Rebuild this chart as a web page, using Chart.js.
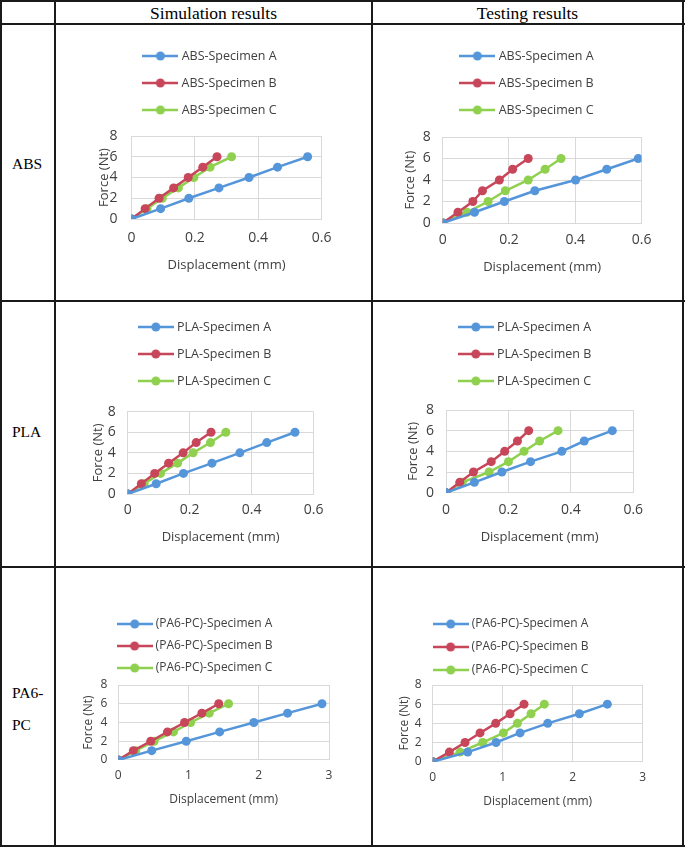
<!DOCTYPE html>
<html>
<head>
<meta charset="utf-8">
<script src="https://cdn.jsdelivr.net/npm/chart.js@4.4.1/dist/chart.umd.min.js"></script>
<style>
  html, body { margin: 0; padding: 0; background: #fff; }
  #sheet { position: relative; width: 685px; height: 847px; overflow: hidden; font-family: 'Liberation Serif', 'Times New Roman', serif; color: #000; }
  .hl { position: absolute; left: 0; width: 685px; height: 2px; background: #1a1a1a; }
  .vl { position: absolute; top: 0; height: 847px; width: 2px; background: #1a1a1a; }
  .head { position: absolute; top: 2px; height: 22px; line-height: 22px; font-size: 17.5px; text-align: center; }
  .rowlab { position: absolute; left: 12px; font-size: 15.5px; line-height: 32px; }
  canvas { position: absolute; }
</style>
</head>
<body>
<div id="sheet">
  <div class="hl" style="top:0"></div>
  <div class="hl" style="top:23px"></div>
  <div class="hl" style="top:300px"></div>
  <div class="hl" style="top:566px"></div>
  <div class="hl" style="top:845px"></div>
  <div class="vl" style="left:0"></div>
  <div class="vl" style="left:54px"></div>
  <div class="vl" style="left:371px"></div>
  <div class="vl" style="left:682px"></div>

  <div class="head" style="left:56px;width:315px">Simulation results</div>
  <div class="head" style="left:373px;width:309px">Testing results</div>

  <div class="rowlab" style="top:148px">ABS</div>
  <div class="rowlab" style="top:416px">PLA</div>
  <div class="rowlab" style="top:677px">PA6-<br>PC</div>
</div>

<script>
// force steps (Nt) shared by every curve
const forceLevels = [0, 1, 2, 3, 4, 5, 6]

// displacement (mm)
const absSimA = [0, 0.092, 0.181, 0.276, 0.371, 0.461, 0.556]
const absSimB = [0, 0.043, 0.087, 0.133, 0.179, 0.225, 0.27]
const absSimC = [0, 0.049, 0.097, 0.148, 0.197, 0.248, 0.316]
const absTestA = [0, 0.096, 0.186, 0.278, 0.401, 0.495, 0.59]
const absTestB = [0, 0.046, 0.091, 0.12, 0.171, 0.211, 0.258]
const absTestC = [0, 0.073, 0.137, 0.189, 0.258, 0.309, 0.357]
const plaSimA = [0, 0.092, 0.18, 0.272, 0.362, 0.449, 0.54]
const plaSimB = [0, 0.044, 0.087, 0.132, 0.179, 0.221, 0.269]
const plaSimC = [0, 0.053, 0.106, 0.161, 0.211, 0.267, 0.317]
const plaTestA = [0, 0.091, 0.179, 0.271, 0.371, 0.443, 0.533]
const plaTestB = [0, 0.044, 0.088, 0.145, 0.188, 0.229, 0.265]
const plaTestC = [0, 0.052, 0.138, 0.2, 0.25, 0.3, 0.359]
const pcSimA = [0, 0.476, 0.967, 1.443, 1.93, 2.41, 2.9]
const pcSimB = [0, 0.214, 0.462, 0.7, 0.943, 1.19, 1.43]
const pcSimC = [0, 0.248, 0.51, 0.786, 1.03, 1.295, 1.57]
const pcTestA = [0, 0.5, 0.905, 1.248, 1.643, 2.095, 2.495]
const pcTestB = [0, 0.238, 0.462, 0.676, 0.9, 1.105, 1.305]
const pcTestC = [0, 0.39, 0.714, 1.01, 1.21, 1.405, 1.595]

const absNames = ['ABS-Specimen A', 'ABS-Specimen B', 'ABS-Specimen C']
const plaNames = ['PLA-Specimen A', 'PLA-Specimen B', 'PLA-Specimen C']
const pcNames = ['(PA6-PC)-Specimen A', '(PA6-PC)-Specimen B', '(PA6-PC)-Specimen C']

const forceTicks = [0, 2, 4, 6, 8]
const dispTicksFine = [0, 0.2, 0.4, 0.6]
const dispTicksWide = [0, 1, 2, 3]

const colors = ['#5596DA', '#C8465A', '#8FD14F']
const textColor = '#404040'
const gridColor = '#D9D9D9'

// where each plot sits on the page (px)
const panels = [
	{ x0: 57, y0: 26, h: 273, L: 131.5, R: 327.5, T: 136, B: 219, legendX: 211, row1: 56, rowGap: 27, legendSize: 12.5, tickSize: 14, titleSize: 13, tickY: 238, titleY: 265, yTickGap: 14, yTitleX: 104, xTicks: dispTicksFine, series: [absSimA, absSimB, absSimC], names: absNames },
	{ x0: 374, y0: 26, h: 273, L: 442.7, R: 646, T: 137, B: 223, legendX: 528, row1: 56, rowGap: 27, legendSize: 12.5, tickSize: 14, titleSize: 13, tickY: 240, titleY: 267, yTickGap: 12, yTitleX: 410, xTicks: dispTicksFine, series: [absTestA, absTestB, absTestC], names: absNames },
	{ x0: 57, y0: 303, h: 262, L: 127.7, R: 317, T: 411.7, B: 494, legendX: 206, row1: 327, rowGap: 27, legendSize: 12.5, tickSize: 14, titleSize: 13, tickY: 510, titleY: 537, yTickGap: 12, yTitleX: 98, xTicks: dispTicksFine, series: [plaSimA, plaSimB, plaSimC], names: plaNames },
	{ x0: 374, y0: 303, h: 262, L: 446, R: 638, T: 410, B: 492.7, legendX: 526, row1: 327, rowGap: 27, legendSize: 12.5, tickSize: 14, titleSize: 13, tickY: 510, titleY: 537, yTickGap: 12, yTitleX: 413, xTicks: dispTicksFine, series: [plaTestA, plaTestB, plaTestC], names: plaNames },
	{ x0: 57, y0: 569, h: 276, L: 118.3, R: 329, T: 685, B: 760, legendX: 196, row1: 624, rowGap: 22, legendSize: 12, tickSize: 12, titleSize: 12, tickY: 776, titleY: 800, yTickGap: 11, yTitleX: 89, xTicks: dispTicksWide, series: [pcSimA, pcSimB, pcSimC], names: pcNames },
	{ x0: 374, y0: 569, h: 276, L: 432.7, R: 642.7, T: 685, B: 761.7, legendX: 512, row1: 624, rowGap: 23, legendSize: 12, tickSize: 12, titleSize: 12, tickY: 778, titleY: 802, yTickGap: 11, yTitleX: 405, xTicks: dispTicksWide, series: [pcTestA, pcTestB, pcTestC], names: pcNames },
]

// line-with-dot swatch like the Excel legend
function legendMarker(color) {
	const c = document.createElement('canvas')
	c.width = 36
	c.height = 10
	const g = c.getContext('2d')
	g.strokeStyle = color
	g.lineWidth = 2.5
	g.beginPath()
	g.moveTo(0, 5)
	g.lineTo(36, 5)
	g.stroke()
	g.fillStyle = color
	g.beginPath()
	g.arc(18, 5, 4.5, 0, Math.PI * 2)
	g.fill()
	return c
}
const markers = colors.map(legendMarker)

// leaves a bit of room between the legend and the plot
const legendGap = {
	id: 'legendGap',
	beforeUpdate(chart, args, opts) {
		const lg = chart.legend
		if (lg && !lg._gapPatched) {
			const fit = lg.fit
			lg.fit = function () {
				fit.call(this)
				this.height += opts.extra || 0
			}
			lg._gapPatched = true
		}
	},
}

const sheet = document.getElementById('sheet')

panels.forEach((s) => {
	const w = Math.round(s.R + 14 - s.x0)
	const lh = s.titleSize * 1.2
	const pad = s.rowGap - s.legendSize
	const padTop = s.row1 - s.y0 - pad - s.legendSize / 2
	const legendH = 3 * (s.legendSize + pad) + 10
	const extra = s.T - s.y0 - padTop - legendH
	const padLeft = 2 * s.legendX - s.R - s.x0
	const yTitlePad = s.yTitleX - lh / 2 - (s.x0 + padLeft)
	const yWidth = s.L - s.x0 - padLeft
	const padRight = s.x0 + w - s.R
	const padBottom = s.y0 + s.h - s.titleY - lh / 2
	const xHeight = s.titleY + lh / 2 - s.B
	const xTickPad = s.tickY - s.B - (s.tickSize * 1.2) / 2

	const canvas = document.createElement('canvas')
	canvas.width = w
	canvas.height = s.h
	canvas.style.left = s.x0 + 'px'
	canvas.style.top = s.y0 + 'px'
	sheet.appendChild(canvas)

	new Chart(canvas.getContext('2d'), {
		type: 'scatter',
		data: {
			datasets: s.series.map((xs, i) => ({
				label: s.names[i],
				data: xs.map((x, k) => ({ x: x, y: forceLevels[k] })),
				showLine: true,
				borderColor: colors[i],
				backgroundColor: colors[i],
				borderWidth: 2.5,
				pointRadius: 4.5,
				pointHoverRadius: 4.5,
				pointBorderWidth: 0,
			})),
		},
		plugins: [legendGap],
		options: {
			responsive: false,
			animation: false,
			devicePixelRatio: 1,
			layout: { padding: { top: padTop, left: padLeft, right: padRight, bottom: padBottom } },
			scales: {
				x: {
					type: 'linear',
					min: s.xTicks[0],
					max: s.xTicks[s.xTicks.length - 1],
					afterBuildTicks: (sc) => { sc.ticks = s.xTicks.map((v) => ({ value: v })) },
					afterFit: (sc) => { sc.height = xHeight },
					grid: { color: gridColor, drawTicks: false },
					border: { color: gridColor },
					ticks: { padding: xTickPad, color: textColor, font: { family: 'Open Sans', size: s.tickSize }, callback: (v) => String(v) },
					title: { display: true, text: 'Displacement (mm)', color: textColor, padding: 0, font: { family: 'Open Sans', size: s.titleSize } },
				},
				y: {
					type: 'linear',
					min: forceTicks[0],
					max: forceTicks[forceTicks.length - 1],
					afterBuildTicks: (sc) => { sc.ticks = forceTicks.map((v) => ({ value: v })) },
					afterFit: (sc) => { sc.width = yWidth },
					grid: { color: gridColor, drawTicks: false },
					border: { color: gridColor },
					ticks: { padding: s.yTickGap, color: textColor, font: { family: 'Open Sans', size: s.tickSize }, callback: (v) => String(v) },
					title: { display: true, text: 'Force (Nt)', color: textColor, padding: { top: yTitlePad, bottom: 0 }, font: { family: 'Open Sans', size: s.titleSize } },
				},
			},
			plugins: {
				legendGap: { extra: extra },
				legend: {
					display: true,
					position: 'top',
					labels: {
						usePointStyle: true,
						pointStyleWidth: 30,
						padding: pad,
						color: textColor,
						font: { family: 'Open Sans', size: s.legendSize },
						generateLabels: (chart) => {
							const items = Chart.defaults.plugins.legend.labels.generateLabels(chart)
							items.forEach((it, i) => { it.pointStyle = markers[i] })
							return items
						},
					},
				},
				tooltip: { enabled: false },
			},
		},
	})
})
</script>
</body>
</html>
